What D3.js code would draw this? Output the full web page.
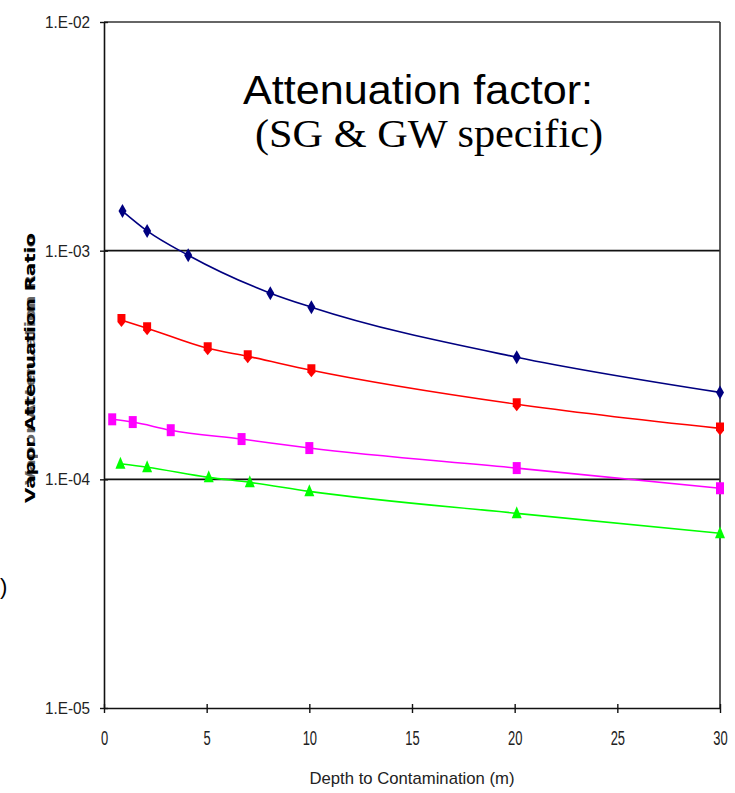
<!DOCTYPE html>
<html><head><meta charset="utf-8">
<script src="https://cdn.jsdelivr.net/npm/d3@7"></script>
<style>body{margin:0;background:#fff;}svg{display:block;}</style>
</head><body>
<script>
const yTicks = [1e-5, 1e-4, 1e-3, 1e-2];
const yTickLabels = ["1.E-05", "1.E-04", "1.E-03", "1.E-02"];
const xTicks = [0, 5, 10, 15, 20, 25, 30];

const blueX = [0.9, 2.1, 4.1, 8.1, 10.1, 20.1, 30];
const blueY = [1.49e-3, 1.22e-3, 9.55e-4, 6.52e-4, 5.66e-4, 3.42e-4, 2.40e-4];
const redX = [0.85, 2.1, 5.05, 7.0, 10.1, 20.1, 30];
const redY = [4.97e-4, 4.58e-4, 3.74e-4, 3.45e-4, 3.00e-4, 2.13e-4, 1.67e-4];
const magX = [0.4, 1.4, 3.25, 6.7, 10.0, 20.1, 30];
const magY = [1.83e-4, 1.78e-4, 1.64e-4, 1.50e-4, 1.37e-4, 1.12e-4, 9.14e-5];
const grnX = [0.8, 2.1, 5.1, 7.1, 10.0, 20.1, 30];
const grnY = [1.17e-4, 1.13e-4, 1.02e-4, 9.7e-5, 8.86e-5, 7.10e-5, 5.81e-5];

const series = [
  {x: blueX, y: blueY, color: "#000080", marker: "diamond"},
  {x: redX, y: redY, color: "#FF0000", marker: "shield"},
  {x: magX, y: magY, color: "#FF00FF", marker: "square"},
  {x: grnX, y: grnY, color: "#00FF00", marker: "triangle"}
];

const W = 735, H = 793;
const L = 104, R = 720, T = 22, B = 708;
const svg = d3.select("body").append("svg").attr("width", W).attr("height", H);
svg.append("rect").attr("width", W).attr("height", H).attr("fill", "#fff");

const x = d3.scaleLinear().domain([0, 30]).range([L, R]);
const y = d3.scaleLog().domain([1e-5, 1e-2]).range([B, T]);

// gridlines at 1E-03, 1E-04
svg.append("g").selectAll("line").data([1e-3, 1e-4]).join("line")
  .attr("x1", L).attr("x2", R).attr("y1", d => y(d)).attr("y2", d => y(d))
  .attr("stroke", "#111").attr("stroke-width", 1.6);

// frame
svg.append("line").attr("x1", L).attr("x2", R).attr("y1", T).attr("y2", T).attr("stroke", "#333").attr("stroke-width", 1.6);
svg.append("line").attr("x1", R).attr("x2", R).attr("y1", T).attr("y2", B).attr("stroke", "#333").attr("stroke-width", 1.6);

const sans = "'Liberation Sans', Arial, sans-serif";

// axes
const yAxis = d3.axisLeft(y).tickValues(yTicks).tickFormat((d, i) => yTickLabels[i]).tickSize(0).tickPadding(14);
const gy = svg.append("g").attr("transform", `translate(${L},0)`).call(yAxis);
gy.select(".domain").attr("stroke", "#111").attr("stroke-width", 1.6);
gy.selectAll(".tick text").attr("font-family", sans).attr("font-size", 17).attr("fill", "#222")
  .attr("textLength", 45).attr("lengthAdjust", "spacingAndGlyphs");
gy.selectAll(".tick").append("line").attr("x1", -4).attr("x2", 4).attr("stroke", "#111").attr("stroke-width", 1.4);

const xAxis = d3.axisBottom(x).tickValues(xTicks).tickSize(0).tickPadding(30);
const gx = svg.append("g").attr("transform", `translate(0,${B})`).call(xAxis);
gx.select(".domain").attr("stroke", "#111").attr("stroke-width", 1.6);
gx.selectAll(".tick text").attr("font-family", sans).attr("font-size", 20).attr("fill", "#222")
  .attr("dy", "0.35em")
  .attr("textLength", d => String(d).length * 7.2).attr("lengthAdjust", "spacingAndGlyphs");
gx.selectAll(".tick").append("line").attr("y1", -4).attr("y2", 5).attr("stroke", "#111").attr("stroke-width", 1.4);

// lines
const line = d3.line().curve(d3.curveMonotoneX);
series.forEach(s => {
  const pts = s.x.map((v, i) => [x(v), y(s.y[i])]);
  svg.append("path").attr("d", line(pts)).attr("fill", "none")
    .attr("stroke", s.color).attr("stroke-width", 1.6);
});

// markers
function markerPath(type) {
  switch (type) {
    case "diamond": return "M0,-7 L4,0 L0,7 L-4,0 Z";
    case "shield": return "M-4,-6 L4,-6 L4,2 L0,7 L-4,2 Z";
    case "square": return "M-4,-6 L4,-6 L4,6 L-4,6 Z";
    case "triangle": return "M0,-7 L5,5 L-5,5 Z";
  }
}
series.forEach(s => {
  svg.append("g").selectAll("path").data(s.x.map((v, i) => [v, s.y[i]])).join("path")
    .attr("transform", d => `translate(${x(d[0])},${y(d[1])})`)
    .attr("d", markerPath(s.marker)).attr("fill", s.color);
});

// titles
svg.append("text").attr("x", 418).attr("y", 104).attr("text-anchor", "middle")
  .attr("font-family", sans).attr("font-size", 41).attr("fill", "#000")
  .attr("textLength", 350).attr("lengthAdjust", "spacingAndGlyphs")
  .text("Attenuation factor:");
svg.append("text").attr("x", 429).attr("y", 147).attr("text-anchor", "middle")
  .attr("font-family", "'Liberation Serif', 'Times New Roman', serif").attr("font-size", 40).attr("fill", "#000")
  .attr("textLength", 348).attr("lengthAdjust", "spacingAndGlyphs")
  .text("(SG & GW specific)");

svg.append("text").attr("x", 412).attr("y", 784).attr("text-anchor", "middle")
  .attr("font-family", sans).attr("font-size", 17).attr("fill", "#222")
  .attr("textLength", 205).attr("lengthAdjust", "spacingAndGlyphs")
  .text("Depth to Contamination (m)");

// y label (overlapping garbled text)
svg.append("text").attr("transform", "translate(35,368) rotate(-90)").attr("text-anchor", "middle")
  .attr("font-family", "'DejaVu Sans', sans-serif").attr("font-weight", "bold").attr("font-size", 14)
  .attr("textLength", 270).attr("lengthAdjust", "spacingAndGlyphs").attr("fill", "#000")
  .text("Vapor Attenuation Ratio");
svg.append("text").attr("transform", "translate(35,360) rotate(-90)").attr("text-anchor", "middle")
  .attr("font-family", "'DejaVu Sans', sans-serif").attr("font-weight", "bold").attr("font-size", 14)
  .attr("textLength", 250).attr("lengthAdjust", "spacingAndGlyphs").attr("fill", "#000").attr("opacity", 0.6)
  .text("Vapor Attenuation Ratio");

svg.append("text").attr("x", 0).attr("y", 594)
  .attr("font-family", sans).attr("font-size", 22).attr("fill", "#000")
  .text(")");
</script>
</body></html>
